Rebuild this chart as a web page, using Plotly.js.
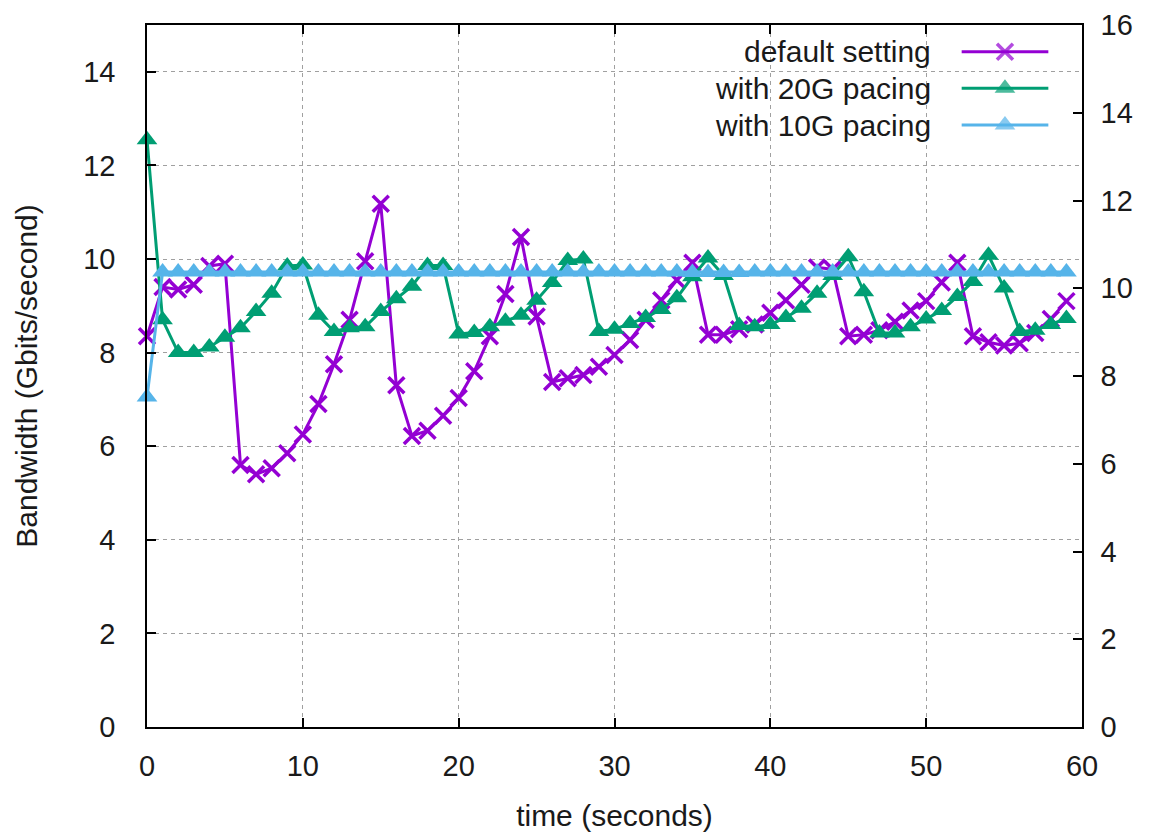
<!DOCTYPE html>
<html>
<head>
<meta charset="utf-8">
<script src="https://cdn.plot.ly/plotly-3.0.1.min.js"></script>
<style>
  html, body { margin: 0; padding: 0; background: #ffffff; }
  #chart { width: 1154px; height: 833px; }
</style>
</head>
<body>
<div id="chart"></div>
<script>
// Time axis (seconds)
const timeSec = [
  0, 1, 2, 3, 4, 5, 6, 7, 8, 9,
  10, 11, 12, 13, 14, 15, 16, 17, 18, 19,
  20, 21, 22, 23, 24, 25, 26, 27, 28, 29,
  30, 31, 32, 33, 34, 35, 36, 37, 38, 39,
  40, 41, 42, 43, 44, 45, 46, 47, 48, 49,
  50, 51, 52, 53, 54, 55, 56, 57, 58, 59
];

// Bandwidth in Gbits/second
const defaultSetting = [
  8.35, 9.40, 9.35, 9.45, 9.85, 9.90, 5.60, 5.40, 5.53, 5.85,
  6.25, 6.90, 7.75, 8.70, 9.95, 11.18, 7.30, 6.22, 6.33, 6.65,
  7.03, 7.60, 8.35, 9.25, 10.47, 8.77, 7.37, 7.45, 7.52, 7.70,
  7.95, 8.27, 8.70, 9.12, 9.55, 9.92, 8.38, 8.38, 8.50, 8.60,
  8.85, 9.12, 9.45, 9.82, 9.78, 8.35, 8.38, 8.48, 8.66, 8.90,
  9.10, 9.50, 9.92, 8.35, 8.22, 8.15, 8.20, 8.42, 8.72, 9.10
];

const pacing20G = [
  12.55, 8.70, 8.00, 8.00, 8.12, 8.33, 8.53, 8.88, 9.27, 9.85,
  9.87, 8.80, 8.45, 8.53, 8.55, 8.88, 9.15, 9.42, 9.86, 9.86,
  8.40, 8.43, 8.55, 8.67, 8.80, 9.12, 9.50, 9.97, 10.00, 8.45,
  8.50, 8.62, 8.75, 8.92, 9.17, 9.62, 10.02, 9.65, 8.58, 8.55,
  8.60, 8.75, 8.95, 9.27, 9.65, 10.05, 9.30, 8.42, 8.42, 8.55,
  8.72, 8.90, 9.20, 9.52, 10.08, 9.38, 8.45, 8.48, 8.60, 8.73
];

const pacing10G = [
  7.05, 9.72, 9.72, 9.72, 9.72, 9.72, 9.72, 9.72, 9.72, 9.72,
  9.72, 9.72, 9.72, 9.72, 9.72, 9.72, 9.72, 9.72, 9.72, 9.72,
  9.72, 9.72, 9.72, 9.72, 9.72, 9.72, 9.72, 9.72, 9.72, 9.72,
  9.72, 9.72, 9.72, 9.72, 9.72, 9.71, 9.71, 9.71, 9.71, 9.72,
  9.72, 9.72, 9.72, 9.72, 9.72, 9.72, 9.72, 9.72, 9.72, 9.72,
  9.72, 9.72, 9.72, 9.72, 9.72, 9.72, 9.72, 9.72, 9.72, 9.72
];

const seriesNames = ['default setting', 'with 20G pacing', 'with 10G pacing'];
const seriesColors = ['#9400d3', '#009e73', '#56b4e9'];

const xTickVals = [0, 10, 20, 30, 40, 50, 60];
const yTickVals = [0, 2, 4, 6, 8, 10, 12, 14];
const y2TickVals = [0, 2, 4, 6, 8, 10, 12, 14, 16];

const FONT = '"Liberation Sans", Arial, Helvetica, sans-serif';
const INK = '#1a1a1a';

const markerStyles = [
  { symbol: 'x-thin', size: 16, color: seriesColors[0], line: { color: seriesColors[0], width: 3.5 } },
  { symbol: 'triangle-up', size: 18, color: seriesColors[1], line: { width: 0 } },
  { symbol: 'triangle-up', size: 18, color: seriesColors[2], line: { width: 0 } }
];

const seriesData = [defaultSetting, pacing20G, pacing10G];

const traces = seriesData.map((vals, i) => ({
  type: 'scatter',
  mode: 'lines+markers',
  name: seriesNames[i],
  x: timeSec,
  y: vals,
  xaxis: 'x',
  yaxis: 'y',
  cliponaxis: false,
  showlegend: false,
  line: { color: seriesColors[i], width: 3 },
  marker: markerStyles[i],
  hoverinfo: 'x+y+name'
}));

// Key: label on the left, line sample with a centred symbol on the right
const keyRows = [0.962, 0.9098, 0.8575];
const keyTextRight = 0.8406;
const keyLineX = [0.8713, 0.9176, 0.964];

const keyTraces = seriesNames.map((nm, i) => ({
  type: 'scatter',
  mode: 'lines+markers',
  x: keyLineX,
  y: [keyRows[i], keyRows[i], keyRows[i]],
  xaxis: 'x3',
  yaxis: 'y3',
  cliponaxis: false,
  showlegend: false,
  hoverinfo: 'skip',
  line: { color: seriesColors[i], width: 3 },
  marker: Object.assign({}, markerStyles[i], { size: [0, markerStyles[i].size, 0] })
}));

// Keeps the right-hand scale attached to the plot
const rightScale = {
  type: 'scatter', mode: 'markers', x: [null], y: [null],
  xaxis: 'x', yaxis: 'y2', showlegend: false, hoverinfo: 'skip'
};

const keyLabels = seriesNames.map((nm, i) => ({
  text: nm,
  xref: 'paper', yref: 'paper',
  x: keyTextRight, y: keyRows[i],
  xanchor: 'right', yanchor: 'middle',
  showarrow: false,
  font: { family: FONT, size: 30, color: INK }
}));

const gridStyle = { gridcolor: '#a0a0a0', gridwidth: 1.3, griddash: '4px,4px' };

const layout = {
  width: 1154,
  height: 833,
  margin: { l: 147, r: 72, t: 25, b: 106, pad: 0 },
  paper_bgcolor: '#ffffff',
  plot_bgcolor: '#ffffff',
  font: { family: FONT, size: 29, color: INK },
  showlegend: false,
  xaxis: Object.assign({
    range: [0, 60],
    tickvals: xTickVals,
    ticks: 'inside', ticklen: 9, tickwidth: 1.5, tickcolor: '#000',
    showline: true, linecolor: '#000', linewidth: 1.5, mirror: 'ticks',
    showgrid: true, zeroline: false,
    ticklabelstandoff: 12,
    tickfont: { family: FONT, size: 29, color: INK },
    title: { text: 'time (seconds)', font: { family: FONT, size: 30, color: INK }, standoff: 24 },
    automargin: false
  }, gridStyle),
  yaxis: Object.assign({
    range: [0, 15],
    tickvals: yTickVals,
    ticks: 'inside', ticklen: 9, tickwidth: 1.5, tickcolor: '#000',
    showline: true, linecolor: '#000', linewidth: 1.5, mirror: false,
    showgrid: true, zeroline: false,
    ticklabelstandoff: 24,
    tickfont: { family: FONT, size: 29, color: INK },
    title: { text: 'Bandwidth (Gbits/second)', font: { family: FONT, size: 30, color: INK }, standoff: 37 },
    automargin: false
  }, gridStyle),
  yaxis2: {
    range: [0, 16],
    tickvals: y2TickVals,
    overlaying: 'y', side: 'right', anchor: 'x',
    ticks: 'inside', ticklen: 9, tickwidth: 1.5, tickcolor: '#000',
    showline: true, linecolor: '#000', linewidth: 1.5,
    showgrid: false, zeroline: false,
    ticklabelstandoff: 11,
    tickfont: { family: FONT, size: 29, color: INK },
    automargin: false
  },
  xaxis3: { overlaying: 'x', range: [0, 1], visible: false, fixedrange: true },
  yaxis3: { overlaying: 'y', range: [0, 1], visible: false, fixedrange: true, anchor: 'x3' },
  annotations: keyLabels
};

Plotly.newPlot('chart', traces.concat([rightScale], keyTraces), layout, { displayModeBar: false, staticPlot: false });
</script>
</body>
</html>
